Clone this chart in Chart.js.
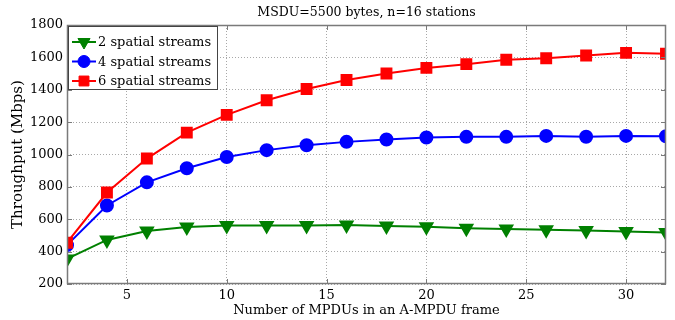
<!DOCTYPE html>
<html>
<head>
<meta charset="utf-8">
<script src="https://cdn.jsdelivr.net/npm/chart.js@4/dist/chart.umd.min.js"></script>
<style>
  html,body{margin:0;padding:0;background:#fff;}
  #wrap{width:675px;height:320px;position:relative;}
</style>
</head>
<body>
<div id="wrap"><canvas id="c" width="675" height="320"></canvas></div>
<script>
const chartTitle = 'MSDU=5500 bytes, n=16 stations';
const xLabel = 'Number of MPDUs in an A-MPDU frame';
const yLabel = 'Throughput (Mbps)';
const mpdus = [2,4,6,8,10,12,14,16,18,20,22,24,26,28,30,32];
const streams2 = [355,472,527,552,562,562,562,565,558,553,545,540,535,530,525,518];
const streams4 = [440,685,828,915,985,1027,1057,1078,1093,1105,1109,1109,1115,1110,1115,1113];
const streams6 = [455,765,975,1135,1245,1335,1405,1460,1500,1535,1558,1585,1595,1612,1628,1622];
const xTicks = [5,10,15,20,25,30];
const yTicks = [200,400,600,800,1000,1200,1400,1600,1800];
const seriesNames = ['2 spatial streams','4 spatial streams','6 spatial streams'];

const FONT = "'DejaVu Serif', serif";
const pts = arr => arr.map((v,i)=>({x:mpdus[i],y:v}));

const boxPlugin = {
  id:'box',
  afterDatasetsDraw(chart){
    const {ctx,chartArea:a,scales:{x,y}}=chart;
    ctx.save();
    ctx.strokeStyle='#7a7a7a';ctx.lineWidth=1;
    ctx.beginPath();
    xTicks.forEach(v=>{const px=Math.round(x.getPixelForValue(v))+0.5;
      ctx.moveTo(px,a.bottom);ctx.lineTo(px,a.bottom-5);
      ctx.moveTo(px,a.top);ctx.lineTo(px,a.top+5);});
    yTicks.forEach(v=>{const py=Math.round(y.getPixelForValue(v))+0.5;
      ctx.moveTo(a.left,py);ctx.lineTo(a.left+5,py);
      ctx.moveTo(a.right,py);ctx.lineTo(a.right-5,py);});
    ctx.stroke();
    ctx.lineWidth=1.5;
    ctx.strokeRect(a.left+0.5,a.top+0.5,a.right-a.left-1,a.bottom-a.top-1);
    // title
    ctx.fillStyle='#000';ctx.font='12.5px '+FONT;ctx.textAlign='center';ctx.textBaseline='middle';
    ctx.fillText(chartTitle,(a.left+a.right)/2,13);
    // legend
    const lx=a.left+1, ly=a.top+1, lw=149, lh=63;
    ctx.fillStyle='#fff';ctx.fillRect(lx,ly,lw,lh);
    ctx.strokeStyle='#444';ctx.lineWidth=1;ctx.strokeRect(lx+0.5,ly+0.5,lw,lh);
    chart.data.datasets.forEach((ds,i)=>{
      const cy=ly+16+i*19.5;
      ctx.strokeStyle=ds.borderColor;ctx.lineWidth=2;
      ctx.beginPath();ctx.moveTo(lx+4,cy);ctx.lineTo(lx+28,cy);ctx.stroke();
      ctx.fillStyle=ds.backgroundColor;ctx.lineWidth=1;
      Chart.helpers.drawPoint(ctx,{pointStyle:ds.pointStyle,rotation:ds.pointRotation||0,radius:ds.pointRadius,borderWidth:1},lx+16,cy);
      ctx.fillStyle='#000';ctx.font='13px '+FONT;ctx.textAlign='left';
      ctx.fillText(seriesNames[i],lx+30,cy+1);
    });
    ctx.restore();
  }
};

new Chart(document.getElementById('c'),{
  type:'line',
  data:{datasets:[
    {label:seriesNames[0],data:pts(streams2),borderColor:'#008000',backgroundColor:'#008000',pointStyle:'triangle',pointRotation:180,pointRadius:7,borderWidth:2,order:2},
    {label:seriesNames[1],data:pts(streams4),borderColor:'#0000ff',backgroundColor:'#0000ff',pointStyle:'circle',pointRadius:6,borderWidth:2,order:1},
    {label:seriesNames[2],data:pts(streams6),borderColor:'#ff0000',backgroundColor:'#ff0000',pointStyle:'rect',pointRadius:7,borderWidth:2,order:0}
  ]},
  options:{
    responsive:false,animation:false,
    layout:{padding:{top:25,right:4,left:0,bottom:0}},
    plugins:{legend:{display:false},title:{display:false},tooltip:{enabled:false}},
    elements:{point:{borderWidth:1},line:{tension:0}},
    scales:{
      x:{type:'linear',min:2,max:32,
        afterBuildTicks:s=>{s.ticks=xTicks.map(v=>({value:v}));},
        afterFit:s=>{s.height=36;},
        grid:{color:'#a8a8a8',lineWidth:1,drawTicks:false},
        border:{display:false,dash:[1,2]},
        ticks:{color:'#000',font:{family:FONT,size:13},padding:4,maxRotation:0,callback:v=>String(v)},
        title:{display:true,text:xLabel,color:'#000',font:{family:FONT,size:13},padding:{top:0,bottom:2}}
      },
      y:{min:200,max:1800,
        afterBuildTicks:s=>{s.ticks=yTicks.map(v=>({value:v}));},
        afterFit:s=>{s.width=67;},
        grid:{color:'#a8a8a8',lineWidth:1,drawTicks:false},
        border:{display:false,dash:[1,2]},
        ticks:{color:'#000',font:{family:FONT,size:13},padding:4,callback:v=>String(v)},
        title:{display:true,text:yLabel,color:'#000',font:{family:FONT,size:15},padding:{top:9,bottom:0}}
      }
    }
  },
  plugins:[boxPlugin]
});
</script>
</body>
</html>
